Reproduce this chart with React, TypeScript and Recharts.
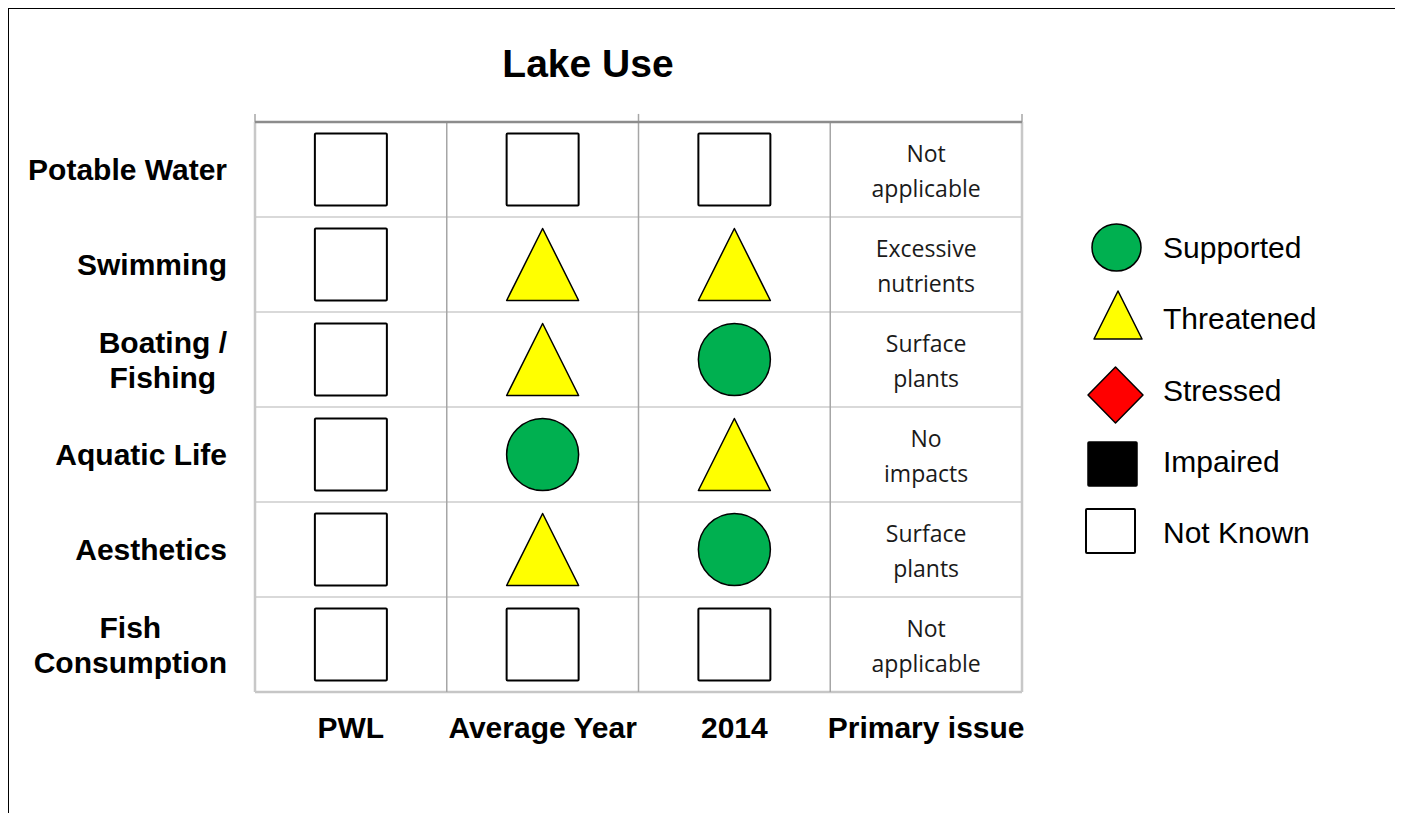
import React from 'react';
import { ScatterChart, Scatter, XAxis, YAxis, ReferenceLine, Customized } from 'recharts';

const chartTitle = 'Lake Use';
const columnLabels = ['PWL', 'Average Year', '2014', 'Primary issue'];
const rowLabels = ['Potable Water', 'Swimming', 'Boating /\nFishing', 'Aquatic Life', 'Aesthetics', 'Fish\nConsumption'];
const pwlStatus = ['Not Known', 'Not Known', 'Not Known', 'Not Known', 'Not Known', 'Not Known'];
const averageYearStatus = ['Not Known', 'Threatened', 'Threatened', 'Supported', 'Threatened', 'Not Known'];
const year2014Status = ['Not Known', 'Threatened', 'Supported', 'Threatened', 'Supported', 'Not Known'];
const primaryIssue = ['Not\napplicable', 'Excessive\nnutrients', 'Surface\nplants', 'No\nimpacts', 'Surface\nplants', 'Not\napplicable'];
const statusNames = ['Supported', 'Threatened', 'Stressed', 'Impaired', 'Not Known'];

const statusColumns = [pwlStatus, averageYearStatus, year2014Status];

const FONT = 'Arial, "Liberation Sans", sans-serif';
const ISSUE_FONT = '"Open Sans", "Noto Sans", sans-serif';

function pointsFor(status: string) {
  const pts: { x: number; y: number }[] = [];
  statusColumns.forEach((col, ci) => {
    col.forEach((s, ri) => {
      if (s === status) pts.push({ x: ci + 0.5, y: ri + 0.5 });
    });
  });
  return pts;
}
const issuePoints = primaryIssue.map((t, ri) => ({ x: 3.5, y: ri + 0.5, text: t }));

function Glyph({ status, cx, cy, w, h }: { status: string; cx: number; cy: number; w: number; h: number }) {
  const hw = w / 2;
  const hh = h / 2;
  if (status === 'Supported')
    return <ellipse cx={cx} cy={cy} rx={hw} ry={hh} fill="#00b050" stroke="#000" strokeWidth={1.5} />;
  if (status === 'Threatened')
    return (
      <polygon
        points={`${cx},${cy - hh} ${cx + hw},${cy + hh} ${cx - hw},${cy + hh}`}
        fill="#ffff00"
        stroke="#000"
        strokeWidth={1.5}
        strokeLinejoin="round"
      />
    );
  if (status === 'Stressed')
    return (
      <polygon
        points={`${cx},${cy - hh} ${cx + hw},${cy} ${cx},${cy + hh} ${cx - hw},${cy}`}
        fill="#ff0000"
        stroke="#000"
        strokeWidth={1.5}
        strokeLinejoin="round"
      />
    );
  if (status === 'Impaired')
    return <rect x={cx - hw} y={cy - hh} width={w} height={h} fill="#000" stroke="#000" strokeWidth={1.5} rx={1} />;
  return <rect x={cx - hw} y={cy - hh} width={w} height={h} fill="#fff" stroke="#000" strokeWidth={2} rx={1} />;
}

const makeShape = (status: string) => (props: any) => (
  <Glyph status={status} cx={props.cx} cy={props.cy} w={72} h={72} />
);

const IssueShape = (props: any) => {
  const lines: string[] = String(props.payload?.text ?? '').split('\n');
  return (
    <text x={props.cx} y={props.cy - 8} textAnchor="middle" fontFamily={ISSUE_FONT} fontSize={23} fill="#1a1a1a">
      {lines.map((l, i) => (
        <tspan key={i} x={props.cx} dy={i === 0 ? 0 : 35}>
          {l}
        </tspan>
      ))}
    </text>
  );
};

let measureCtx: CanvasRenderingContext2D | null = null;
function measure(text: string, font: string) {
  if (typeof document === 'undefined') return text.length * 15;
  if (!measureCtx) measureCtx = document.createElement('canvas').getContext('2d');
  if (!measureCtx) return text.length * 15;
  measureCtx.font = font;
  return measureCtx.measureText(text).width;
}

const LABEL_SIZE = 30;

const RowTick = (props: any) => {
  const idx = Math.round(props.payload.value - 0.5);
  const label = rowLabels[idx] ?? '';
  const lines = label.split('\n');
  const right = props.x - 28;
  const widths = lines.map((l) => measure(l.trim(), `bold ${LABEL_SIZE}px "Liberation Sans", Arial`));
  const maxW = Math.max(...widths);
  const center = right - maxW / 2;
  const cy = props.y;
  const spacing = 35;
  const first = cy + 10.5 - ((lines.length - 1) * spacing) / 2;
  return (
    <text textAnchor="middle" fontFamily={FONT} fontWeight="bold" fontSize={LABEL_SIZE} fill="#000">
      {lines.map((l, i) => (
        <tspan key={i} x={center} y={first + i * spacing}>
          {l.trim()}
        </tspan>
      ))}
    </text>
  );
};

const ColTick = (props: any) => {
  const idx = Math.round(props.payload.value - 0.5);
  return (
    <text x={props.x} y={props.y + 46} textAnchor="middle" fontFamily={FONT} fontWeight="bold" fontSize={LABEL_SIZE} fill="#000">
      {columnLabels[idx]}
    </text>
  );
};

const legendGeom = [
  { cx: 36.5, cy: 37.5, w: 49, h: 47 },
  { cx: 38, cy: 105, w: 48, h: 48 },
  { cx: 35.5, cy: 185, w: 55, h: 56 },
  { cx: 32.5, cy: 254, w: 49, h: 44 },
  { cx: 30.5, cy: 321, w: 49, h: 44 },
];
const legendBaselines = [47.7, 118.7, 190.7, 261.7, 332.7];

const LegendLayer = () => (
  <g transform="translate(1072, 202)">
    {statusNames.map((s, i) => (
      <g key={s}>
        <Glyph status={s} cx={legendGeom[i].cx} cy={legendGeom[i].cy} w={legendGeom[i].w} h={legendGeom[i].h} />
        <text x={83} y={legendBaselines[i]} fontFamily={FONT} fontSize={30} fill="#000">
          {s}
        </text>
      </g>
    ))}
  </g>
);

const Title = () => (
  <text x={580} y={69} textAnchor="middle" fontFamily={FONT} fontWeight="bold" fontSize={39} fill="#000">
    {chartTitle}
  </text>
);

export default function App() {
  return (
    <div style={{ position: 'relative', width: 1390, height: 805 }}>
      <ScatterChart width={1390} height={805} margin={{ top: 114, right: 376, bottom: 0, left: 0 }}>
        <XAxis
          type="number"
          dataKey="x"
          domain={[0, 4]}
          ticks={[0.5, 1.5, 2.5, 3.5]}
          interval={0}
          axisLine={false}
          tickLine={false}
          tickSize={0}
          tickMargin={0}
          height={121}
          tick={<ColTick />}
        />
        <YAxis
          type="number"
          dataKey="y"
          domain={[0, 6]}
          reversed
          ticks={[0.5, 1.5, 2.5, 3.5, 4.5, 5.5]}
          interval={0}
          axisLine={false}
          tickLine={false}
          tickSize={0}
          tickMargin={0}
          width={247}
          tick={<RowTick />}
        />
        {[1, 2, 3, 4, 5].map((y) => (
          <ReferenceLine key={'h' + y} y={y} stroke="#d9d9d9" strokeWidth={2} />
        ))}
        <ReferenceLine y={6} stroke="#c6c6c6" strokeWidth={2.5} />
        {[1, 2, 3].map((x) => (
          <ReferenceLine key={'v' + x} x={x} stroke="#a6a6a6" strokeWidth={1.5} />
        ))}
        <ReferenceLine x={0} stroke="#c8c8c8" strokeWidth={2.5} />
        <ReferenceLine x={4} stroke="#c8c8c8" strokeWidth={2.5} />
        {[0, 2, 4].map((x) => (
          <ReferenceLine
            key={'t' + x}
            segment={[
              { x, y: -0.085 },
              { x, y: 0 },
            ]}
            ifOverflow="visible"
            stroke="#a6a6a6"
            strokeWidth={1.5}
          />
        ))}
        <ReferenceLine y={0} stroke="#8c8c8c" strokeWidth={2.5} />
        {statusNames.map((s) => (
          <Scatter
            key={s}
            name={s}
            data={pointsFor(s)}
            shape={makeShape(s)}
            isAnimationActive={false}
          />
        ))}
        <Scatter name="Primary issue" data={issuePoints} shape={IssueShape} isAnimationActive={false} legendType="none" />
        <Customized component={Title} />
        <Customized component={LegendLayer} />
      </ScatterChart>
      <div
        style={{
          position: 'absolute',
          left: 0,
          top: 0,
          width: 1390,
          height: 805,
          boxSizing: 'border-box',
          borderLeft: '1px solid #000',
          borderTop: '1px solid #000',
          borderRight: '1px solid #000',
          pointerEvents: 'none',
        }}
      />
    </div>
  );
}
